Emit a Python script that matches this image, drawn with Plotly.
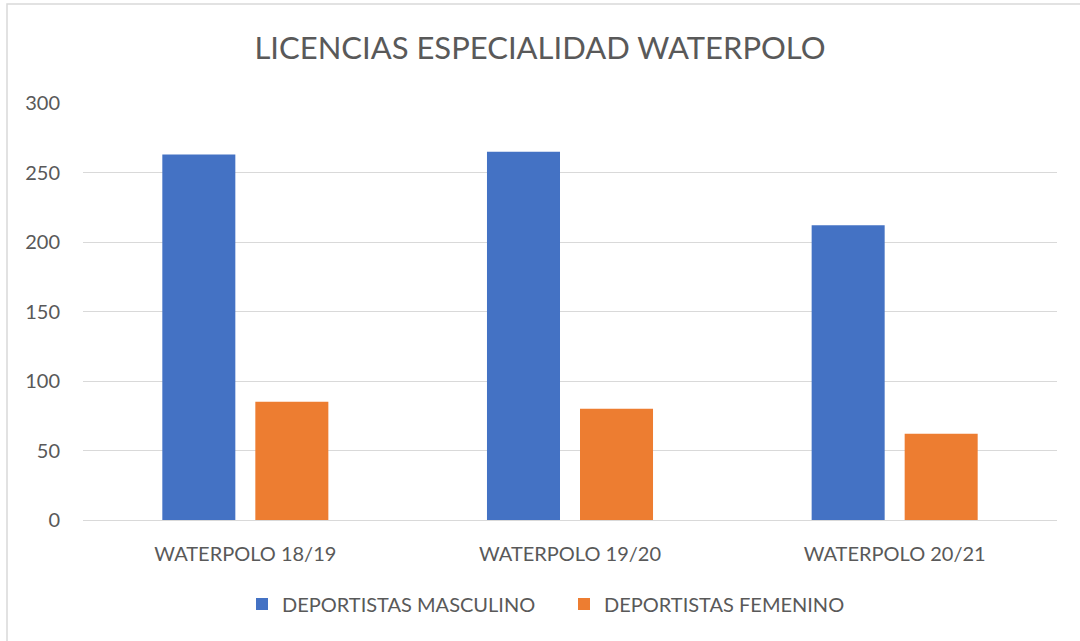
import plotly.graph_objects as go

categories = ["WATERPOLO 18/19", "WATERPOLO 19/20", "WATERPOLO 20/21"]
masculino = [263, 265, 212]
femenino = [85, 80, 62]
series_names = ["DEPORTISTAS MASCULINO", "DEPORTISTAS FEMENINO"]
y_ticks = [0, 50, 100, 150, 200, 250, 300]

FONT = "Lato"
GRAY = "#595959"

fig = go.Figure()
fig.add_trace(go.Bar(x=categories, y=masculino, name=series_names[0],
                     marker=dict(color="#4472C4", line=dict(width=0))))
fig.add_trace(go.Bar(x=categories, y=femenino, name=series_names[1],
                     marker=dict(color="#ED7D31", line=dict(width=0))))

L, R, T, B = 83, 23, 103, 121
W, H = 1080, 641
pw, ph = W - L - R, H - T - B

fig.update_layout(
    width=W, height=H,
    margin=dict(l=L, r=R, t=T, b=B, pad=0),
    paper_bgcolor="white", plot_bgcolor="white",
    barmode="group", bargap=0.427, bargroupgap=0.215,
    title=dict(text="LICENCIAS ESPECIALIDAD WATERPOLO", x=0.5, xanchor="center",
               y=1 - 48 / H, yanchor="middle",
               font=dict(family=FONT, size=31, color=GRAY)),
    font=dict(family=FONT, size=20, color=GRAY),
    legend=dict(orientation="h", x=(262 - L - 20) / pw, xanchor="left",
                y=-(604 - (H - B)) / ph,
                yanchor="middle", font=dict(family=FONT, size=20, color=GRAY),
                itemwidth=30, traceorder="normal",
                entrywidth=277, entrywidthmode="pixels"),
    xaxis=dict(showgrid=False, showline=False, zeroline=False, ticks="",
               ticklabelstandoff=20,
               tickfont=dict(family=FONT, size=20, color=GRAY)),
    yaxis=dict(range=[0, 300], tickvals=y_ticks, showgrid=True, gridcolor="#D9D9D9",
               gridwidth=1, zeroline=True, zerolinecolor="#D9D9D9", zerolinewidth=1,
               showline=False, ticks="", ticklabelstandoff=22,
               tickfont=dict(family=FONT, size=20, color=GRAY)),
    shapes=[dict(type="rect", xref="paper", yref="paper",
                 x0=(7 - L) / pw, x1=(1090 - L) / pw,
                 y0=-(650 - (H - B)) / ph, y1=((H - B) - 4) / ph,
                 line=dict(color="#D9D9D9", width=1.5), fillcolor="rgba(0,0,0,0)",
                 layer="below")],
)

fig.write_html("out.html", config={"displayModeBar": False},
               post_script="document.body.style.margin='0';document.body.style.overflow='hidden';")
